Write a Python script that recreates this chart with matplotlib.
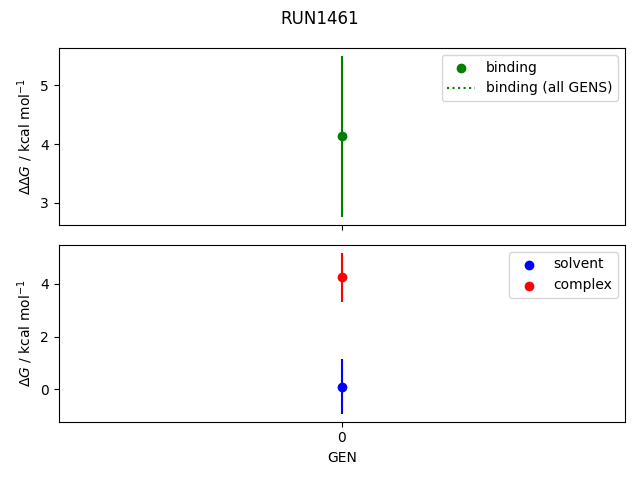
import matplotlib
matplotlib.use('Agg')
from matplotlib import pyplot

gens = [0]
binding = [4.13]
binding_err = [1.37]
solvent = [0.10]
solvent_err = [1.03]
complex_ = [4.25]
complex_err = [0.93]

fig, (ax1, ax2) = pyplot.subplots(2, 1, sharex=True, figsize=(6.4, 4.8), dpi=100)

# binding free energy
ax1.scatter(gens, binding, color='green', label='binding')
ax1.errorbar(gens, binding, yerr=binding_err, color='green', fmt='none')
ax1.plot(gens, binding, ':', color='green', label='binding (all GENS)')
ax1.set_ylabel(r'$\Delta\Delta G$ / kcal mol$^{-1}$')
ax1.legend()

# per-phase free energies
ax2.scatter(gens, solvent, color='blue', label='solvent')
ax2.errorbar(gens, solvent, yerr=solvent_err, color='blue', fmt='none')
ax2.scatter(gens, complex_, color='red', label='complex')
ax2.errorbar(gens, complex_, yerr=complex_err, color='red', fmt='none')
ax2.set_ylabel(r'$\Delta G$ / kcal mol$^{-1}$')
ax2.set_xlabel('GEN')
ax2.set_xticks(gens)
ax2.legend()

fig.suptitle('RUN1461')
fig.tight_layout()
fig.savefig('out.png', dpi=100)
